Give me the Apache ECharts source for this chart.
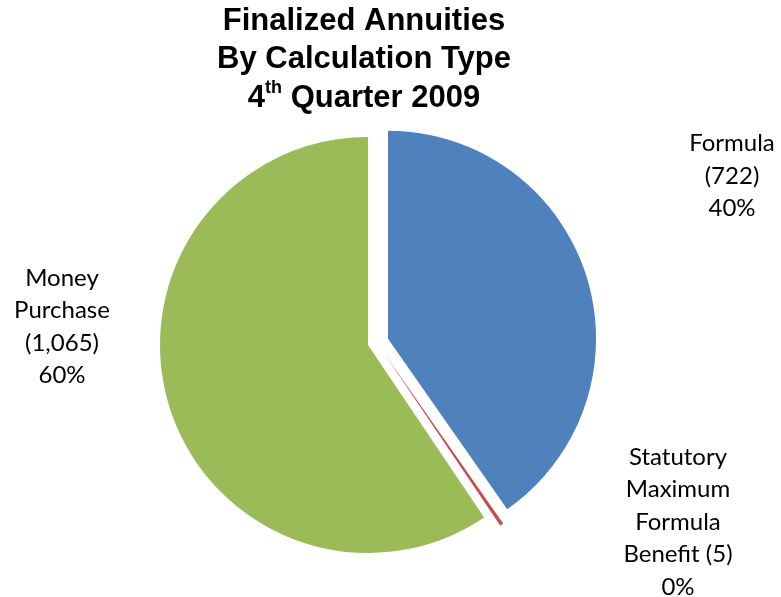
<!DOCTYPE html>
<html>
<head>
<meta charset="utf-8">
<script src="https://cdn.jsdelivr.net/npm/echarts@6/dist/echarts.min.js"></script>
<style>
  html, body { margin: 0; padding: 0; background: #ffffff; }
  #chart { width: 781px; height: 597px; }
</style>
</head>
<body>
<div id="chart"></div>
<script>
// Annuities finalized in Q4 2009, by calculation type (clockwise from 12 o'clock)
const categories = ['Formula', 'Statutory\nMaximum\nFormula\nBenefit', 'Money\nPurchase'];
const counts = [722, 5, 1065];
const percentLabels = ['40%', '0%', '60%'];
const colors = ['#4F81BD', '#C0504D', '#9BBB59'];

// Where each slice's label block sits (centre of the text)
const labelSpots = [[732, 176], [678, 522], [62, 327]];

const chart = echarts.init(document.getElementById('chart'), null, { renderer: 'canvas' });

const pieCenter = [368, 345];
const pieRadius = 208;
// The thin slice is pulled out into the middle of the gap between its neighbours
const thinShift = [16, 8];
const THIN = 1;
const clear = 'rgba(0,0,0,0)';

// Main pie: Formula exploded, Money Purchase in place, the thin slice left blank here
const mainData = categories.map((name, i) => ({
  name: name,
  value: counts[i],
  selected: i === 0,
  itemStyle: { color: i === THIN ? clear : colors[i] }
}));

// Only the thin slice is painted on this layer
const thinData = categories.map((name, i) => ({
  name: name,
  value: counts[i],
  itemStyle: { color: i === THIN ? colors[i] : clear }
}));

// Same values again, drawn invisibly, only to carry the slice labels
const labelData = categories.map((name, i) => ({ name: name, value: counts[i] }));

const basePie = {
  type: 'pie',
  radius: pieRadius,
  startAngle: 90,
  clockwise: true,
  emphasis: { disabled: true },
  labelLine: { show: false }
};

chart.setOption({
  animation: false,
  backgroundColor: '#ffffff',
  title: {
    text: 'Finalized Annuities\nBy Calculation Type\n4{sup|th} Quarter 2009',
    left: 364,
    top: 2,
    padding: 0,
    textAlign: 'center',
    textStyle: {
      fontFamily: 'Liberation Sans',
      fontWeight: 'bold',
      fontSize: 31,
      lineHeight: 38.5,
      color: '#000000',
      rich: {
        sup: {
          fontFamily: 'Liberation Sans',
          fontWeight: 'bold',
          fontSize: 18,
          verticalAlign: 'top',
          padding: [0, 0, 12, 0],
          color: '#000000'
        }
      }
    }
  },
  series: [
    Object.assign({}, basePie, {
      center: pieCenter,
      selectedMode: 'multiple',
      selectedOffset: 21,
      label: { show: false },
      data: mainData
    }),
    Object.assign({}, basePie, {
      center: [pieCenter[0] + thinShift[0], pieCenter[1] + thinShift[1]],
      silent: true,
      selectedMode: false,
      label: { show: false },
      data: thinData
    }),
    Object.assign({}, basePie, {
      center: pieCenter,
      silent: true,
      selectedMode: false,
      avoidLabelOverlap: false,
      itemStyle: { color: clear },
      label: {
        show: true,
        position: 'outside',
        fontFamily: 'Lato',
        fontSize: 24,
        lineHeight: 32.5,
        color: '#000000',
        align: 'center',
        formatter: (p) => {
          const sep = p.dataIndex === THIN ? ' ' : '\n';
          return p.name + sep + '(' + p.value.toLocaleString('en-US') + ')\n' + percentLabels[p.dataIndex];
        }
      },
      labelLayout: (params) => ({
        x: labelSpots[params.dataIndex][0],
        y: labelSpots[params.dataIndex][1],
        align: 'center',
        verticalAlign: 'middle'
      }),
      data: labelData
    })
  ]
});
</script>
</body>
</html>
